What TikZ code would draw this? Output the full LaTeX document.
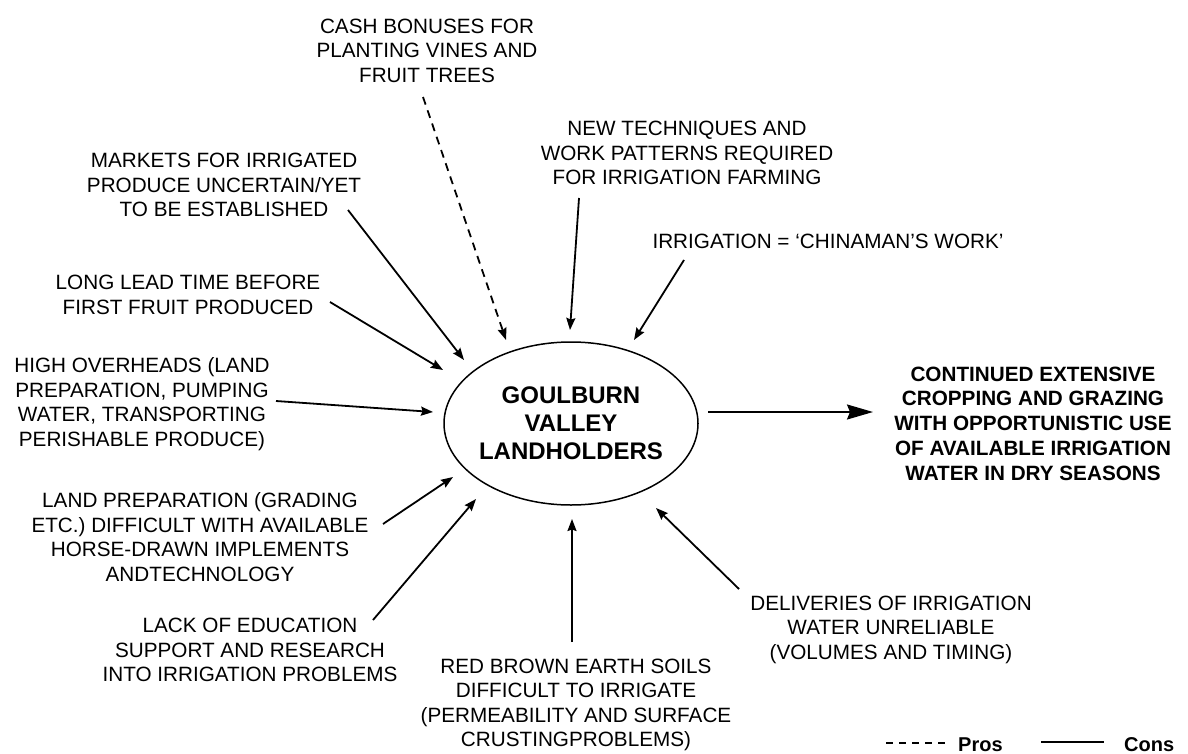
\documentclass[tikz,border=0pt]{standalone}
\usepackage{fontspec}
\setmainfont{Liberation Sans}
\usetikzlibrary{arrows.meta,shapes.geometric}
\begin{document}
\begin{tikzpicture}[x=1pt,y=-1pt,
  lbl/.style={align=center,inner sep=0pt,font=\fontsize{20.7}{24.5}\selectfont},
  boldlbl/.style={align=center,inner sep=0pt,font=\fontsize{20.7}{24.8}\selectfont\bfseries},
  centrelbl/.style={align=center,inner sep=0pt,font=\fontsize{24}{28}\selectfont\bfseries},
  cons/.style={line width=1.8pt,-{Stealth[length=12pt,width=9pt,inset=1.5pt]}},
  pros/.style={cons,dash pattern=on 8pt off 6pt},
  result/.style={line width=1.9pt,-{Stealth[length=26pt,width=15pt,inset=3pt]}},
  legendtext/.style={inner sep=0pt,anchor=base west,font=\fontsize{20}{24}\selectfont\bfseries}
]
\useasboundingbox (0,0) rectangle (1188,754);

% central actor
\node[draw,ellipse,line width=1.5pt,minimum width=254pt,minimum height=163pt,inner sep=0pt] (gv) at (571,423.5) {};
\node[centrelbl] (gvtext) at (571,423) {GOULBURN\\VALLEY\\LANDHOLDERS};

% influences
\node[lbl] (cash) at (427,50.5) {CASH BONUSES FOR\\PLANTING VINES AND\\FRUIT TREES};
\node[lbl] (markets) at (224,185) {MARKETS FOR IRRIGATED\\PRODUCE UNCERTAIN/YET\\TO BE ESTABLISHED};
\node[lbl] (lead) at (188,295) {LONG LEAD TIME BEFORE\\FIRST FRUIT PRODUCED};
\node[lbl] (overheads) at (142,404) {HIGH OVERHEADS (LAND\\PREPARATION, PUMPING\\WATER, TRANSPORTING\\PERISHABLE PRODUCE)};
\node[lbl] (landprep) at (200,537) {LAND PREPARATION (GRADING\\ETC.) DIFFICULT WITH AVAILABLE\\HORSE-DRAWN IMPLEMENTS\\ANDTECHNOLOGY};
\node[lbl] (lack) at (250,650) {LACK OF EDUCATION\\SUPPORT AND RESEARCH\\INTO IRRIGATION PROBLEMS};
\node[lbl] (soils) at (576,705) {RED BROWN EARTH SOILS\\DIFFICULT TO IRRIGATE\\(PERMEABILITY AND SURFACE\\CRUSTINGPROBLEMS)};
\node[lbl] (deliveries) at (891,629.5) {DELIVERIES OF IRRIGATION\\WATER UNRELIABLE\\(VOLUMES AND TIMING)};
\node[lbl] (newtech) at (687,153) {NEW TECHNIQUES AND\\WORK PATTERNS REQUIRED\\FOR IRRIGATION FARMING};
\node[lbl] (chinaman) at (828,241) {IRRIGATION = `CHINAMAN'S WORK'};

% outcome
\node[boldlbl] (outcome) at (1033,423.5) {CONTINUED EXTENSIVE\\CROPPING AND GRAZING\\WITH OPPORTUNISTIC USE\\OF AVAILABLE IRRIGATION\\WATER IN DRY SEASONS};

% connector end points
\coordinate (cashS) at (423,97);      \coordinate (cashT) at (506,340);
\coordinate (marketsS) at (348,210);  \coordinate (marketsT) at (464,360);
\coordinate (leadS) at (330,302);     \coordinate (leadT) at (443,370);
\coordinate (overS) at (276,401);     \coordinate (overT) at (433,412);
\coordinate (prepS) at (383,524);     \coordinate (prepT) at (453,477);
\coordinate (lackS) at (373,620);     \coordinate (lackT) at (476,499);
\coordinate (soilsS) at (572,642);    \coordinate (soilsT) at (572,519);
\coordinate (delivS) at (739,589);    \coordinate (delivT) at (656,508);
\coordinate (newS) at (579,198);      \coordinate (newT) at (570,330);
\coordinate (chinaS) at (684,260);    \coordinate (chinaT) at (634,340);
\coordinate (outS) at (708,412);      \coordinate (outT) at (873,412);

\draw[pros] (cashS) -- (cashT);
\draw[cons] (marketsS) -- (marketsT);
\draw[cons] (leadS) -- (leadT);
\draw[cons] (overS) -- (overT);
\draw[cons] (prepS) -- (prepT);
\draw[cons] (lackS) -- (lackT);
\draw[cons] (soilsS) -- (soilsT);
\draw[cons] (delivS) -- (delivT);
\draw[cons] (newS) -- (newT);
\draw[cons] (chinaS) -- (chinaT);
\draw[result] (outS) -- (outT);

% legend
\coordinate (prosA) at (886,743); \coordinate (prosB) at (946,743);
\coordinate (consA) at (1041,742); \coordinate (consB) at (1104,742);
\draw[line width=1.3pt,dash pattern=on 7pt off 6pt] (prosA) -- (prosB);
\draw[line width=1.3pt] (consA) -- (consB);
\node[legendtext] (proslbl) at (958,751.5) {Pros};
\node[legendtext] (conslbl) at (1124,751.5) {Cons};
\end{tikzpicture}
\end{document}
